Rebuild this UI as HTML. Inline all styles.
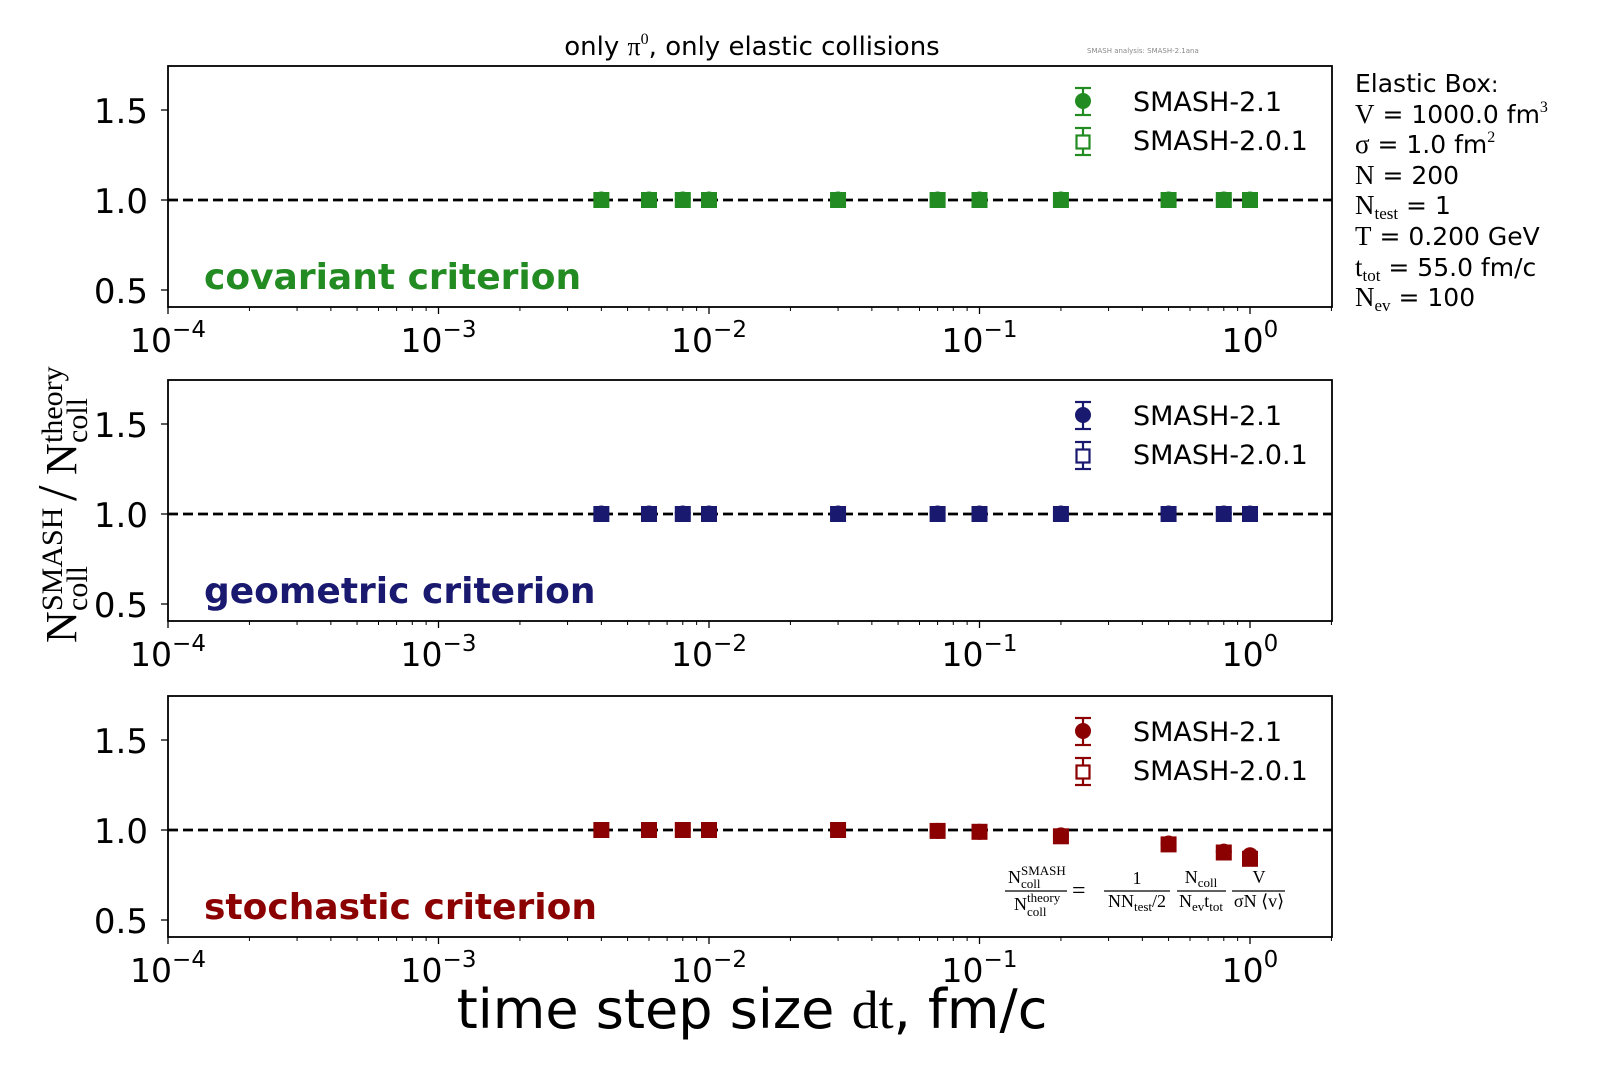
<!DOCTYPE html>
<html><head><meta charset="utf-8"><style>
html,body{margin:0;padding:0;background:#fff;}
svg{display:block;font-family:"DejaVu Sans","Liberation Sans",sans-serif;}
</style></head><body>
<svg id="c" width="1600" height="1082" viewBox="0 0 1600 1082" xmlns="http://www.w3.org/2000/svg"></svg>
<script>
const L=168,R=1332,dec=270.5;
function X(v){return L+(Math.log10(v)+4)*dec;}
const panels=[
 {top:66,col:"#228B22",lab:"covariant criterion"},
 {top:380,col:"#191970",lab:"geometric criterion"},
 {top:696,col:"#8B0000",lab:"stochastic criterion"}];
const xs=[0.004,0.006,0.008,0.01,0.03,0.07,0.1,0.2,0.5,0.8,1.0];
const stoch=[1,1,1,1,1,0.995,0.99,0.97,0.925,0.88,0.86];
const stoch2=[1,1,1,1,1,0.995,0.99,0.965,0.92,0.875,0.84];
const SF='font-family="Liberation Serif"';
let s='';
s+=`<text x="752" y="55" font-size="26" text-anchor="middle">only <tspan ${SF}>π</tspan><tspan font-size="16" dy="-11" ${SF}>0</tspan><tspan dy="11">, only elastic collisions</tspan></text>`;
s+=`<text x="1087" y="53" font-size="7" fill="#888">SMASH analysis: SMASH-2.1ana</text>`;
panels.forEach((p,i)=>{
 const T=p.top,B=T+241;
 const Y=v=>T+134+(1-v)*180;
 s+=`<line x1="${L}" x2="${R}" y1="${Y(1)}" y2="${Y(1)}" stroke="#000" stroke-width="2.8" stroke-dasharray="10,5"/>`;
 [1.5,1.0,0.5].forEach(v=>{s+=`<line x1="${L-7}" x2="${L}" y1="${Y(v)}" y2="${Y(v)}" stroke="#000" stroke-width="1.3"/>`;
  s+=`<text x="${L-20}" y="${Y(v)+13}" font-size="34" text-anchor="end">${v.toFixed(1)}</text>`;});
 for(let e=-4;e<=0;e++){const x=X(Math.pow(10,e));
  s+=`<line x1="${x}" x2="${x}" y1="${B}" y2="${B+7}" stroke="#000" stroke-width="1.3"/>`;
  const ex = e<0 ? '−'+(-e) : '0';
  s+=`<text x="${x}" y="${B+45}" font-size="33" text-anchor="middle">10<tspan font-size="23" dy="-15">${ex}</tspan></text>`;
  for(let k=2;k<=9;k++){const xv=X(k*Math.pow(10,e)); if(xv<=R) s+=`<line x1="${xv}" x2="${xv}" y1="${B}" y2="${B+4}" stroke="#000" stroke-width="1"/>`;}
 }
 xs.forEach((xv,j)=>{const x=X(xv);
  let v1=1.003,v2=1.0;
  if(i==2){v1=stoch[j];v2=stoch2[j];}
  s+=`<rect x="${x-8}" y="${Y(v2)-8}" width="16" height="16" fill="${p.col}"/>`;
  s+=`<circle cx="${x}" cy="${Y(v1)}" r="8" fill="${p.col}"/>`;
 });
 const lx=1083;
 const eb=(a,b)=>`<line x1="${lx}" x2="${lx}" y1="${T+a}" y2="${T+b}" stroke="${p.col}" stroke-width="2.2"/><line x1="${lx-8}" x2="${lx+8}" y1="${T+a}" y2="${T+a}" stroke="${p.col}" stroke-width="2.2"/><line x1="${lx-8}" x2="${lx+8}" y1="${T+b}" y2="${T+b}" stroke="${p.col}" stroke-width="2.2"/>`;
 s+=eb(22,49)+`<circle cx="${lx}" cy="${T+35}" r="8" fill="${p.col}"/>`;
 s+=`<text x="1133" y="${T+45}" font-size="27">SMASH-2.1</text>`;
 s+=eb(62,89)+`<rect x="${lx-6.5}" y="${T+69.5}" width="13" height="13" fill="#fff" stroke="${p.col}" stroke-width="2.2"/>`;
 s+=`<text x="1133" y="${T+84}" font-size="27">SMASH-2.0.1</text>`;
 s+=`<text x="204" y="${T+223}" font-size="36" font-weight="bold" fill="${p.col}">${p.lab}</text>`;
 s+=`<rect x="${L}" y="${T}" width="${R-L}" height="241" fill="none" stroke="#000" stroke-width="1.8"/>`;
});
s+=`<g ${SF} font-size="18">
<text x="1008" y="883">N</text>
<text x="1021" y="875" font-size="13">SMASH</text>
<text x="1021" y="888" font-size="13">coll</text>
<line x1="1005" x2="1067" y1="891" y2="891" stroke="#000" stroke-width="1.3"/>
<text x="1014" y="910">N</text>
<text x="1027" y="902" font-size="13">theory</text>
<text x="1027" y="916" font-size="13">coll</text>
<text x="1072" y="898" font-size="24">=</text>
<g text-anchor="middle">
<text x="1137" y="884">1</text>
<line x1="1104" x2="1170" y1="891" y2="891" stroke="#000" stroke-width="1.3"/>
<text x="1137" y="907">NN<tspan font-size="13" dy="4">test</tspan><tspan dy="-4">/2</tspan></text>
<text x="1201" y="883">N<tspan font-size="13" dy="4">coll</tspan></text>
<line x1="1177" x2="1226" y1="891" y2="891" stroke="#000" stroke-width="1.3"/>
<text x="1201" y="907">N<tspan font-size="13" dy="4">ev</tspan><tspan dy="-4">t</tspan><tspan font-size="13" dy="4">tot</tspan></text>
<text x="1259" y="883">V</text>
<line x1="1232" x2="1285" y1="891" y2="891" stroke="#000" stroke-width="1.3"/>
<text x="1259" y="907">σN ⟨v⟩</text>
</g></g>`;
s+=`<g font-size="25">
<text x="1355" y="92">Elastic Box<tspan font-size="22">:</tspan></text>
<text x="1355" y="123"><tspan ${SF} font-size="27">V</tspan> = 1000.0 fm<tspan font-size="16" dy="-11" ${SF}>3</tspan></text>
<text x="1355" y="153"><tspan ${SF} font-size="27">σ</tspan> = 1.0 fm<tspan font-size="16" dy="-11" ${SF}>2</tspan></text>
<text x="1355" y="184"><tspan ${SF} font-size="27">N</tspan> = 200</text>
<text x="1355" y="214"><tspan ${SF} font-size="27">N</tspan><tspan ${SF} font-size="17" dy="5">test</tspan><tspan dy="-5"> = 1</tspan></text>
<text x="1355" y="245"><tspan ${SF} font-size="27">T</tspan> = 0.200 GeV</text>
<text x="1355" y="276"><tspan ${SF} font-size="27">t</tspan><tspan ${SF} font-size="17" dy="5">tot</tspan><tspan dy="-5"> = 55.0 fm/c</tspan></text>
<text x="1355" y="306"><tspan ${SF} font-size="27">N</tspan><tspan ${SF} font-size="17" dy="5">ev</tspan><tspan dy="-5"> = 100</tspan></text>
</g>`;
s+=`<g transform="translate(76,643) rotate(-90)" ${SF}>
<text x="0" y="0" font-size="44">N</text>
<text x="32" y="-14" font-size="30">SMASH</text>
<text x="32" y="11" font-size="30">coll</text>
<text x="142" y="0" font-size="56">/</text>
<text x="168" y="0" font-size="44">N</text>
<text x="200" y="-14" font-size="30">theory</text>
<text x="200" y="11" font-size="30">coll</text>
</g>`;
s+=`<text x="752" y="1028" font-size="54" text-anchor="middle">time step size <tspan ${SF}>dt</tspan>, fm/c</text>`;
document.getElementById('c').innerHTML=s;
</script>
</body></html>
